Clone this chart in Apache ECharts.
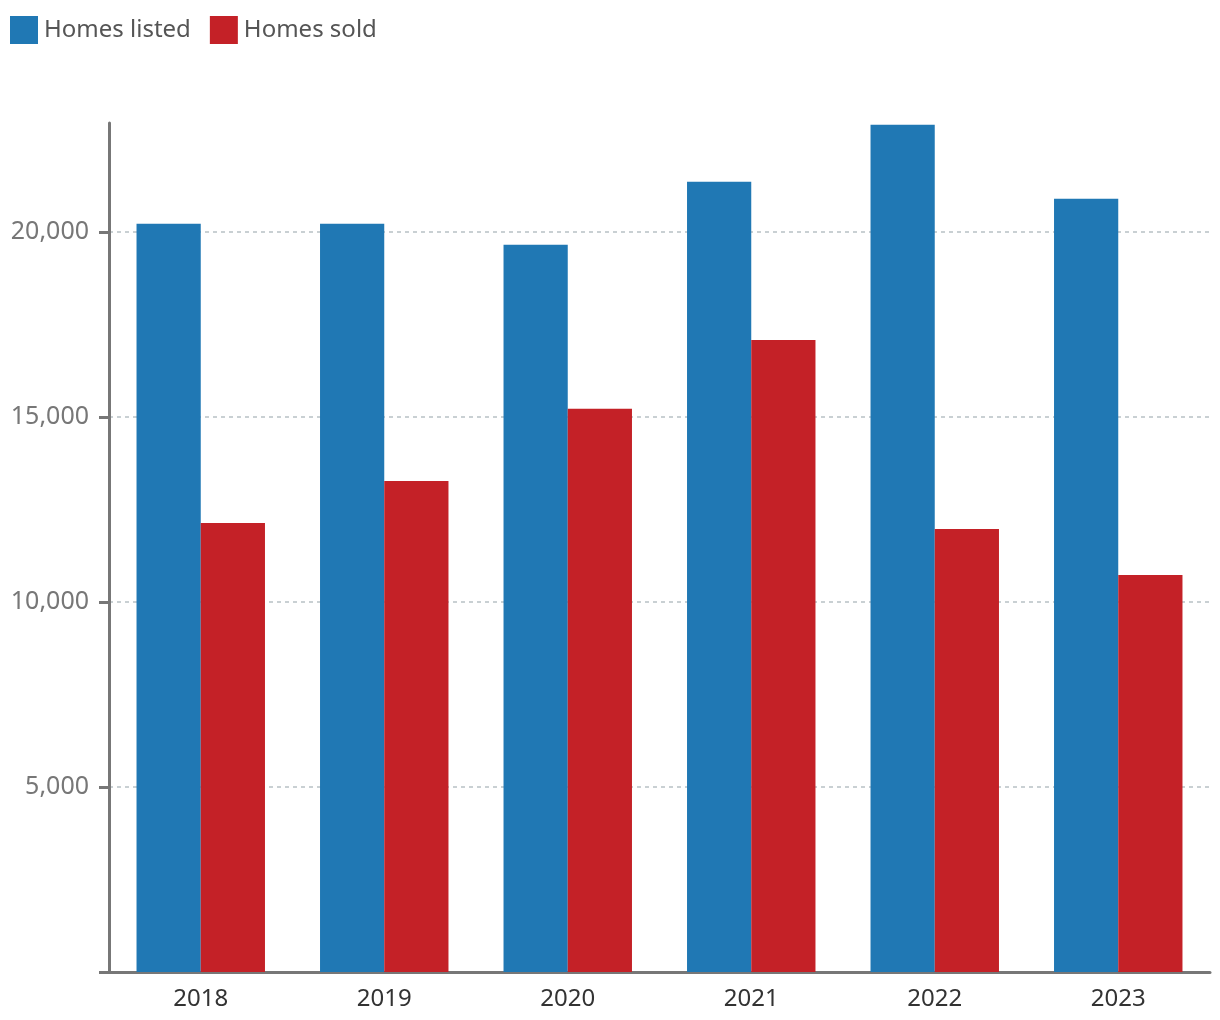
<!DOCTYPE html>
<html>
<head>
<meta charset="utf-8">
<script src="https://cdn.jsdelivr.net/npm/echarts@6/dist/echarts.min.js"></script>
<style>
html,body{margin:0;padding:0;background:#fff;}
#chart{width:1220px;height:1020px;}
</style>
</head>
<body>
<div id="chart"></div>
<script>
const categories = ['2018', '2019', '2020', '2021', '2022', '2023'];
const homesListed = [20220, 20220, 19650, 21350, 22890, 20890];
const homesSold = [12130, 13270, 15220, 17080, 11970, 10730];
const yTicks = [0, 5000, 10000, 15000, 20000];
const yLabels = [5000, 10000, 15000, 20000];
const yMax = 22940;

const FONT = '"Noto Sans", sans-serif';
const chart = echarts.init(document.getElementById('chart'), null, {renderer: 'canvas'});
chart.setOption({
  animation: false,
  legend: {
    left: 10, top: 16, padding: 0,
    itemWidth: 28, itemHeight: 28, itemGap: 19,
    icon: 'rect',
    textStyle: {color: '#555', fontSize: 24, fontFamily: FONT, padding: [8, 0, 0, 1]},
    data: ['Homes listed', 'Homes sold']
  },
  grid: {left: 109, right: 10, top: 123, bottom: 48, containLabel: false},
  xAxis: {
    type: 'category',
    data: categories,
    axisLine: {lineStyle: {color: '#777', width: 3}},
    axisTick: {show: false},
    axisLabel: {color: '#333', fontSize: 24, fontFamily: FONT, margin: 15}
  },
  yAxis: {
    type: 'value',
    min: 0, max: yMax, interval: 5000,
    axisLine: {show: true, lineStyle: {color: '#777', width: 3}},
    axisTick: {show: true, inside: false, length: 10, lineStyle: {color: '#777', width: 3}, customValues: yTicks},
    axisLabel: {
      color: '#777', fontSize: 25, fontFamily: FONT, margin: 20,
      customValues: yLabels,
      formatter: v => v.toLocaleString('en-US')
    },
    splitLine: {show: true, showMinLine: false, lineStyle: {color: '#b8c1c5', type: [4, 4], width: 1.5}}
  },
  series: [
    {name: 'Homes listed', type: 'bar', data: homesListed, itemStyle: {color: '#2078b4'}, barGap: 0, barCategoryGap: '30%'},
    {name: 'Homes sold', type: 'bar', data: homesSold, itemStyle: {color: '#c42127'}, barGap: 0, barCategoryGap: '30%'}
  ]
});
</script>
</body>
</html>
